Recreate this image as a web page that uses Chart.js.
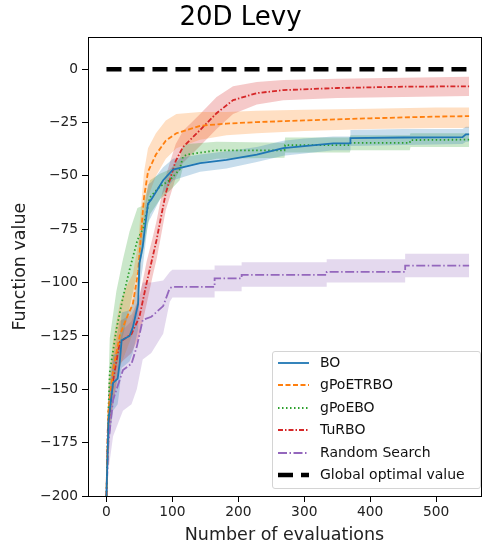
<!DOCTYPE html>
<html>
<head>
<meta charset="utf-8">
<script src="https://cdn.jsdelivr.net/npm/chart.js@4"></script>
<style>
    body { margin: 0; background: #fff; }
    #wrap { position: relative; width: 485px; height: 546px; }
    #legendBox {
        position: absolute; left: 272px; top: 351px; width: 207px; height: 136px;
        border: 1px solid #d4d4d4; border-radius: 3px; background: rgba(255, 255, 255, 0.8);
        font-family: 'DejaVu Sans', sans-serif; font-size: 14px; color: #111;
    }
    #legendBox .row { position: relative; height: 22.4px; }
    #legendBox svg { position: absolute; left: 5px; top: 6px; }
    #legendBox span { position: absolute; left: 47px; top: 2px; white-space: nowrap; }
</style>
</head>
<body>
<div id="wrap">
    <canvas id="chartLevy" width="485" height="546"></canvas>
    <div id="legendBox"></div>
</div>
<script>
// tick labels
const xTicks = [0, 100, 200, 300, 400, 500];
const yTicks = [-200, -175, -150, -125, -100, -75, -50, -25, 0];

// BO
const boX = [0, 3, 10, 17, 20, 23, 35, 40, 48, 50, 55, 58, 63, 68, 86, 101, 142, 182, 228, 268, 300, 344, 370, 370, 450, 540, 545, 550];
const boY = [-200, -165, -147, -145, -138, -127, -125, -121, -110, -91, -83, -75, -63, -61, -52, -47, -44, -42.5, -40, -37, -36, -34.8, -34.8, -32.3, -32, -31.8, -30.5, -30.5];
const boLo = [-200, -178, -160, -157, -150, -140, -137, -133, -122, -103, -93, -85, -72, -69, -58, -52, -48, -46.5, -43.5, -40.5, -39.5, -38, -38, -36, -35.5, -35, -34, -34];
const boHi = [-200, -152, -134, -133, -126, -114, -113, -109, -98, -79, -73, -65, -54, -53, -46, -42, -40, -38.5, -36.5, -33.5, -32.5, -31.5, -31.5, -28.5, -28, -28, -27, -27];

// gPoETRBO
const etX = [0, 3, 10, 20, 30, 40, 48, 53, 57, 63, 75, 90, 106, 142, 182, 228, 300, 400, 500, 550];
const etY = [-200, -160, -141, -125, -117, -110, -95, -75, -60, -48, -40, -33.5, -30, -26.5, -25.5, -24.8, -24, -23, -22.2, -22];
const etLo = [-200, -172, -155, -140, -132, -124, -108, -88, -72, -60, -50, -42, -37, -33, -31, -30, -29, -28, -27.5, -27.5];
const etHi = [-200, -148, -127, -110, -102, -96, -82, -62, -48, -37, -30, -24, -21, -20, -20, -19.5, -19, -18.5, -18, -18];

// gPoEBO
const ebX = [0, 3, 5, 15, 25, 35, 47, 55, 66, 81, 96, 111, 116, 122, 167, 270, 271, 369, 370, 460, 461, 550];
const ebY = [-200, -160, -142, -122, -107, -94, -80, -75, -60, -55, -52, -47, -41, -40, -38, -38, -35.6, -35.6, -34.5, -34.5, -33.2, -33];
const ebLo = [-200, -172, -158, -140, -125, -112, -95, -86, -68, -61, -57, -52, -46, -45, -42, -41.5, -39, -39, -38, -38, -36.5, -36.5];
const ebHi = [-200, -148, -126, -104, -89, -76, -65, -64, -52, -49, -47, -42, -36, -35, -34, -34.5, -32, -32, -31, -31, -30, -30];

// TuRBO
const tuX = [0, 2, 10, 20, 38, 50, 61, 70, 76, 81, 90, 96, 105, 116, 142, 167, 192, 228, 268, 350, 450, 550];
const tuY = [-200, -169, -146, -128, -124, -116, -100, -88, -80, -72, -58, -52, -43, -36.5, -28.5, -20.6, -14.5, -11.2, -9.8, -8.8, -8.2, -8];
const tuLo = [-200, -180, -158, -138, -133, -125, -110, -97, -89, -81, -66, -60, -51, -44, -36, -28, -21, -16.5, -14.5, -13.5, -13, -12.5];
const tuHi = [-200, -158, -134, -118, -115, -107, -90, -79, -71, -63, -50, -44, -35, -29, -21, -13, -8, -6, -5, -4.5, -4, -3.5];

// Random Search
const rsX = [0, 3, 10, 25, 38, 46, 55, 68, 86, 96, 100, 164, 164, 205, 205, 334, 334, 453, 453, 550];
const rsY = [-200, -175, -155, -141, -138, -130, -117.5, -116, -111, -102.6, -102, -102, -98, -98, -96.4, -96.4, -95, -95, -92, -92];
const rsLo = [-200, -188, -172, -160, -157, -150, -136, -133, -124, -109, -107, -107, -104, -104, -102, -102, -100, -100, -97.5, -97.5];
const rsHi = [-200, -160, -138, -122, -118, -110, -100, -100, -99, -95, -94, -94, -92, -92, -90.5, -90.5, -89, -89, -86.5, -86.5];

// global optimum
const globX = [0, 550];
const globY = [0, 0];

const names = ['BO', 'gPoETRBO', 'gPoEBO', 'TuRBO', 'Random Search'];
const colors = ['#1f77b4', '#ff7f0e', '#2ca02c', '#d62728', '#9467bd'];
const bandColors = ['rgba(31,119,180,0.25)', 'rgba(255,127,14,0.25)', 'rgba(44,160,44,0.25)', 'rgba(214,39,40,0.25)', 'rgba(148,103,189,0.25)'];
const dashes = [[], [5, 2.5], [1.5, 2.5], [5, 2, 1.5, 2], [9, 2.5, 1.5, 2.5]];
const seriesX = [boX, etX, ebX, tuX, rsX];
const seriesY = [boY, etY, ebY, tuY, rsY];
const seriesLo = [boLo, etLo, ebLo, tuLo, rsLo];
const seriesHi = [boHi, etHi, ebHi, tuHi, rsHi];

function toPoints(xs, ys) {
    return xs.map((x, i) => ({ x: x, y: ys[i] }));
}

let datasets = [];
for (let i = 0; i < names.length; i++) {
    datasets.push({
        label: names[i], data: toPoints(seriesX[i], seriesY[i]),
        borderColor: colors[i], borderWidth: 1.8, borderDash: dashes[i],
        pointRadius: 0, fill: false, tension: 0, order: 0
    });
}
datasets.push({
    label: 'Global optimal value', data: toPoints(globX, globY),
    borderColor: '#000', borderWidth: 4.5, borderDash: [15, 8],
    pointRadius: 0, fill: false, order: 0
});
for (let i = 0; i < names.length; i++) {
    let lowIdx = datasets.length;
    datasets.push({
        label: names[i] + ' lo', data: toPoints(seriesX[i], seriesLo[i]),
        borderWidth: 0, pointRadius: 0, fill: false, order: 1
    });
    datasets.push({
        label: names[i] + ' hi', data: toPoints(seriesX[i], seriesHi[i]),
        borderWidth: 0, pointRadius: 0, backgroundColor: bandColors[i],
        fill: lowIdx, order: 1
    });
}

// full box round the plot, like matplotlib spines
const frame = {
    id: 'frame',
    afterDatasetsDraw(chart) {
        const a = chart.chartArea;
        const ctx = chart.ctx;
        ctx.save();
        ctx.strokeStyle = '#000';
        ctx.lineWidth = 1;
        ctx.strokeRect(Math.round(a.left) + 0.5, Math.round(a.top) + 0.5, Math.round(a.right - a.left), Math.round(a.bottom - a.top));
        ctx.restore();
    }
};

Chart.defaults.font.family = "'DejaVu Sans', sans-serif";
Chart.defaults.color = '#222';

new Chart(document.getElementById('chartLevy'), {
    type: 'line',
    data: { datasets: datasets },
    options: {
        responsive: false,
        animation: false,
        layout: { padding: { left: 0, right: 4, top: 0, bottom: 0 } },
        plugins: {
            legend: { display: false },
            tooltip: { enabled: false },
            title: {
                display: true, text: '20D Levy', color: '#000',
                font: { size: 26, weight: 'normal' }, padding: { top: 3, bottom: 3 }
            }
        },
        scales: {
            x: {
                type: 'linear', min: -28, max: 568,
                afterBuildTicks: (s) => { s.ticks = xTicks.map(v => ({ value: v })); },
                afterFit: (s) => { s.height = 50; },
                ticks: { font: { size: 13.8 }, padding: 2, color: '#222' },
                grid: { drawOnChartArea: false, tickLength: 6, color: '#000' },
                border: { color: '#000' },
                title: { display: true, text: 'Number of evaluations', font: { size: 17.5 }, color: '#222', padding: { bottom: 0 } }
            },
            y: {
                type: 'linear', min: -200, max: 15,
                afterBuildTicks: (s) => { s.ticks = yTicks.map(v => ({ value: v })); },
                afterFit: (s) => { s.width = 88; },
                ticks: {
                    font: { size: 13.8 }, padding: 4, color: '#222',
                    callback: (v) => String(v).replace('-', '\u2212')
                },
                grid: { drawOnChartArea: false, tickLength: 6, color: '#000' },
                border: { color: '#000' },
                title: { display: true, text: 'Function value', font: { size: 17.5 }, color: '#222', padding: { top: 10 } }
            }
        }
    },
    plugins: [frame]
});

// legend drawn as html inside the axes, lower right
let legendItems = names.map((n, i) => ({ name: n, color: colors[i], dash: dashes[i].join(' '), width: 1.8 }));
legendItems.push({ name: 'Global optimal value', color: '#000', dash: '15 8', width: 4.5 });
let elem = [];
legendItems.forEach(it => {
    elem.push('<div class="row"><svg width="32" height="10"><line x1="0" y1="5" x2="31" y2="5" stroke="' + it.color +
        '" stroke-width="' + it.width + '" stroke-dasharray="' + it.dash + '"/></svg><span>' + it.name + '</span></div>');
});
document.getElementById('legendBox').innerHTML = elem.join('');
</script>
</body>
</html>
